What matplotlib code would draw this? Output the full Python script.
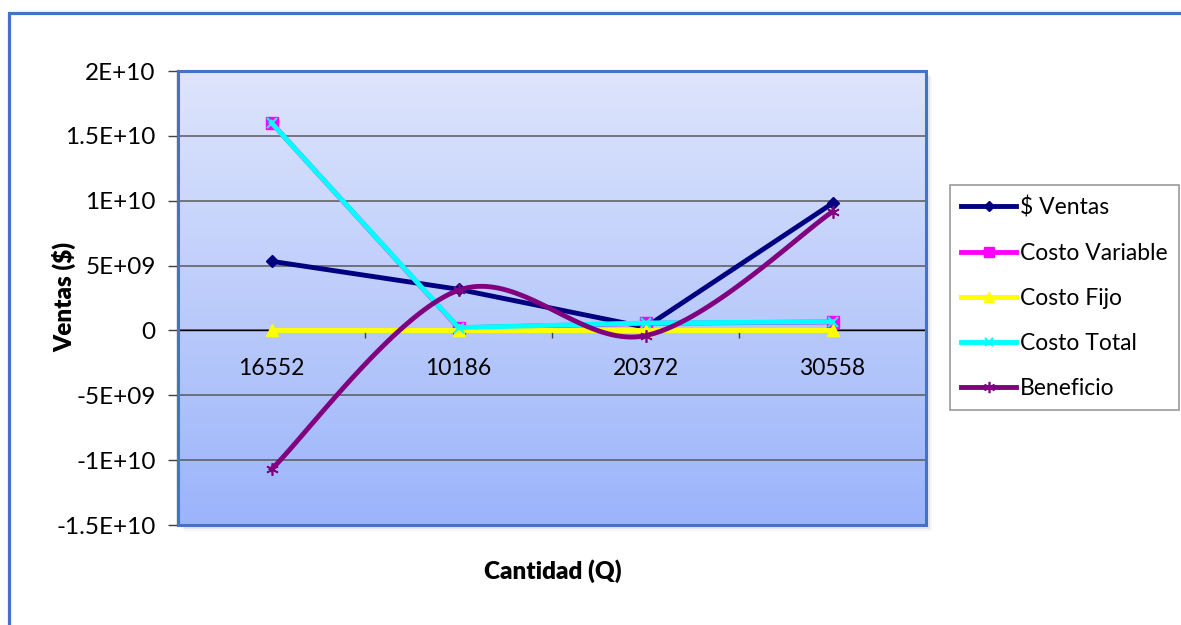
import numpy as np
import matplotlib
matplotlib.use('Agg')
import matplotlib.pyplot as plt
from matplotlib.patches import Rectangle

plt.rcParams['font.family'] = ['Lato', 'DejaVu Sans']

cantidades = ['16552', '10186', '20372', '30558']
ventas = [5.33e9, 3.17e9, 0.25e9, 9.8e9]
costo_variable = [1.60e10, 0.20e9, 0.55e9, 0.65e9]
costo_fijo = [0.02e9, 0.02e9, 0.02e9, 0.02e9]
costo_total = [1.60e10, 0.22e9, 0.57e9, 0.67e9]
beneficio = [-1.07e10, 3.10e9, -0.40e9, 9.15e9]

y_ticks = [2e10, 1.5e10, 1e10, 5e9, 0, -5e9, -1e10, -1.5e10]
y_labels = ['2E+10', '1.5E+10', '1E+10', '5E+09', '0', '-5E+09', '-1E+10', '-1.5E+10']


def smooth(xs, ys, n=40):
    # Excel-style smoothed line: cubic Bezier with Catmull-Rom control points
    p = np.column_stack([xs, ys]).astype(float)
    pts = np.vstack([p[0], p, p[-1]])
    out = []
    t = np.linspace(0, 1, n)[:, None]
    for i in range(1, len(pts) - 2):
        p0, p1, p2, p3 = pts[i - 1], pts[i], pts[i + 1], pts[i + 2]
        c1 = p1 + (p2 - p0) / 6
        c2 = p2 - (p3 - p1) / 6
        seg = ((1 - t) ** 3) * p1 + 3 * ((1 - t) ** 2) * t * c1 + 3 * (1 - t) * t ** 2 * c2 + t ** 3 * p2
        out.append(seg)
    seg = np.vstack(out)
    return seg[:, 0], seg[:, 1]


W, H = 1181, 625
fig = plt.figure(figsize=(W / 100, H / 100), dpi=100)

x0, x1, ytop, ybot = 178, 926, 71, 525
ax = fig.add_axes([x0 / W, 1 - ybot / H, (x1 - x0) / W, (ybot - ytop) / H])
ax.set_zorder(2)

# outer frame
fig.patches.append(Rectangle((9.5 / W, -0.2), 1.5, 1.2 - 13 / H, transform=fig.transFigure,
                             fill=False, edgecolor='#4472C4', lw=2.3, zorder=0))
# shadow of plot area
for k, a in [(6, 0.04), (4, 0.06), (2, 0.08)]:
    fig.patches.append(Rectangle(((x0 + k) / W, 1 - (ybot + k) / H), (x1 - x0) / W, (ybot - ytop) / H,
                                 transform=fig.transFigure, facecolor='#000000', alpha=a,
                                 edgecolor='none', zorder=0))

# gradient background
grad = np.linspace(0, 1, 256)[:, None]
top = np.array([222, 229, 252]) / 255
bot = np.array([155, 180, 250]) / 255
img = top[None, None, :] * (1 - grad[:, :, None]) + bot[None, None, :] * grad[:, :, None]
ax.imshow(img, extent=[0, 1, 0, 1], transform=ax.transAxes, aspect='auto', zorder=0)

x = np.arange(len(cantidades))
lw = 3.5
ax.plot(x, ventas, color='#000080', lw=lw, marker='D', ms=6, label='$ Ventas', zorder=3)
ax.plot(x, costo_variable, color='#FF00FF', lw=lw, marker='s', ms=8, label='Costo Variable', zorder=3)
ax.plot(x, costo_fijo, color='#FFFF00', lw=lw, marker='^', ms=8, label='Costo Fijo', zorder=3)
ax.plot(x, costo_total, color='#00FFFF', lw=lw, marker='x', ms=7, mew=1.5, label='Costo Total', zorder=3)
sx, sy = smooth(x, beneficio)
ax.plot(sx, sy, color='#800080', lw=lw, zorder=4)
ax.plot(x, beneficio, color='#800080', lw=0, marker=(6, 2, 0), ms=9, mew=1.2, zorder=4)
ax.plot([], [], color='#800080', lw=lw, marker=(6, 2, 0), ms=9, mew=1.2, label='Beneficio')

ax.set_xlim(-0.5, len(cantidades) - 0.5)
ax.set_ylim(-1.5e10, 2e10)
ax.set_yticks(y_ticks)
ax.set_yticklabels(y_labels, fontsize=17.5)
ax.yaxis.grid(True, color='#595959', lw=1.1, zorder=1)
ax.set_axisbelow(True)
ax.tick_params(axis='y', length=7, width=1, color='#404040', pad=9)

ax.spines['bottom'].set_position(('data', 0))
ax.spines['bottom'].set_color('#000000')
ax.spines['bottom'].set_linewidth(1)
ax.spines['left'].set_color('#1F3864')
ax.spines['left'].set_linewidth(1.6)
ax.spines['top'].set_visible(False)
ax.spines['right'].set_visible(False)
ax.add_patch(Rectangle((0, 0), 1, 1, transform=ax.transAxes, fill=False,
                       edgecolor='#4472C4', lw=2.2, zorder=5, clip_on=False))

ax.set_xticks(x)
ax.set_xticklabels(cantidades, fontsize=16.5)
ax.set_xticks([0.5, 1.5, 2.5], minor=True)
ax.tick_params(axis='x', which='major', length=0, pad=20)
ax.tick_params(axis='x', which='minor', length=6, width=1, color='#404040')

fig.text(553 / W, 1 - 571 / H, 'Cantidad (Q)', ha='center', va='center', fontsize=17.5, fontweight='heavy')
fig.text(64 / W, 1 - 297 / H, 'Ventas ($)', ha='center', va='center', rotation=90, fontsize=17.5,
         fontweight='heavy')

leg = ax.legend(loc='upper left', bbox_to_anchor=(950 / W, 1 - 185 / H), bbox_transform=fig.transFigure,
                borderaxespad=0, fontsize=16.5, frameon=True, fancybox=False, edgecolor='#808080',
                handlelength=2.4, handletextpad=0.15, labelspacing=1.05, borderpad=0.5, markerscale=0.9)
leg.get_frame().set_linewidth(1.2)

fig.savefig('out.png', dpi=100)
